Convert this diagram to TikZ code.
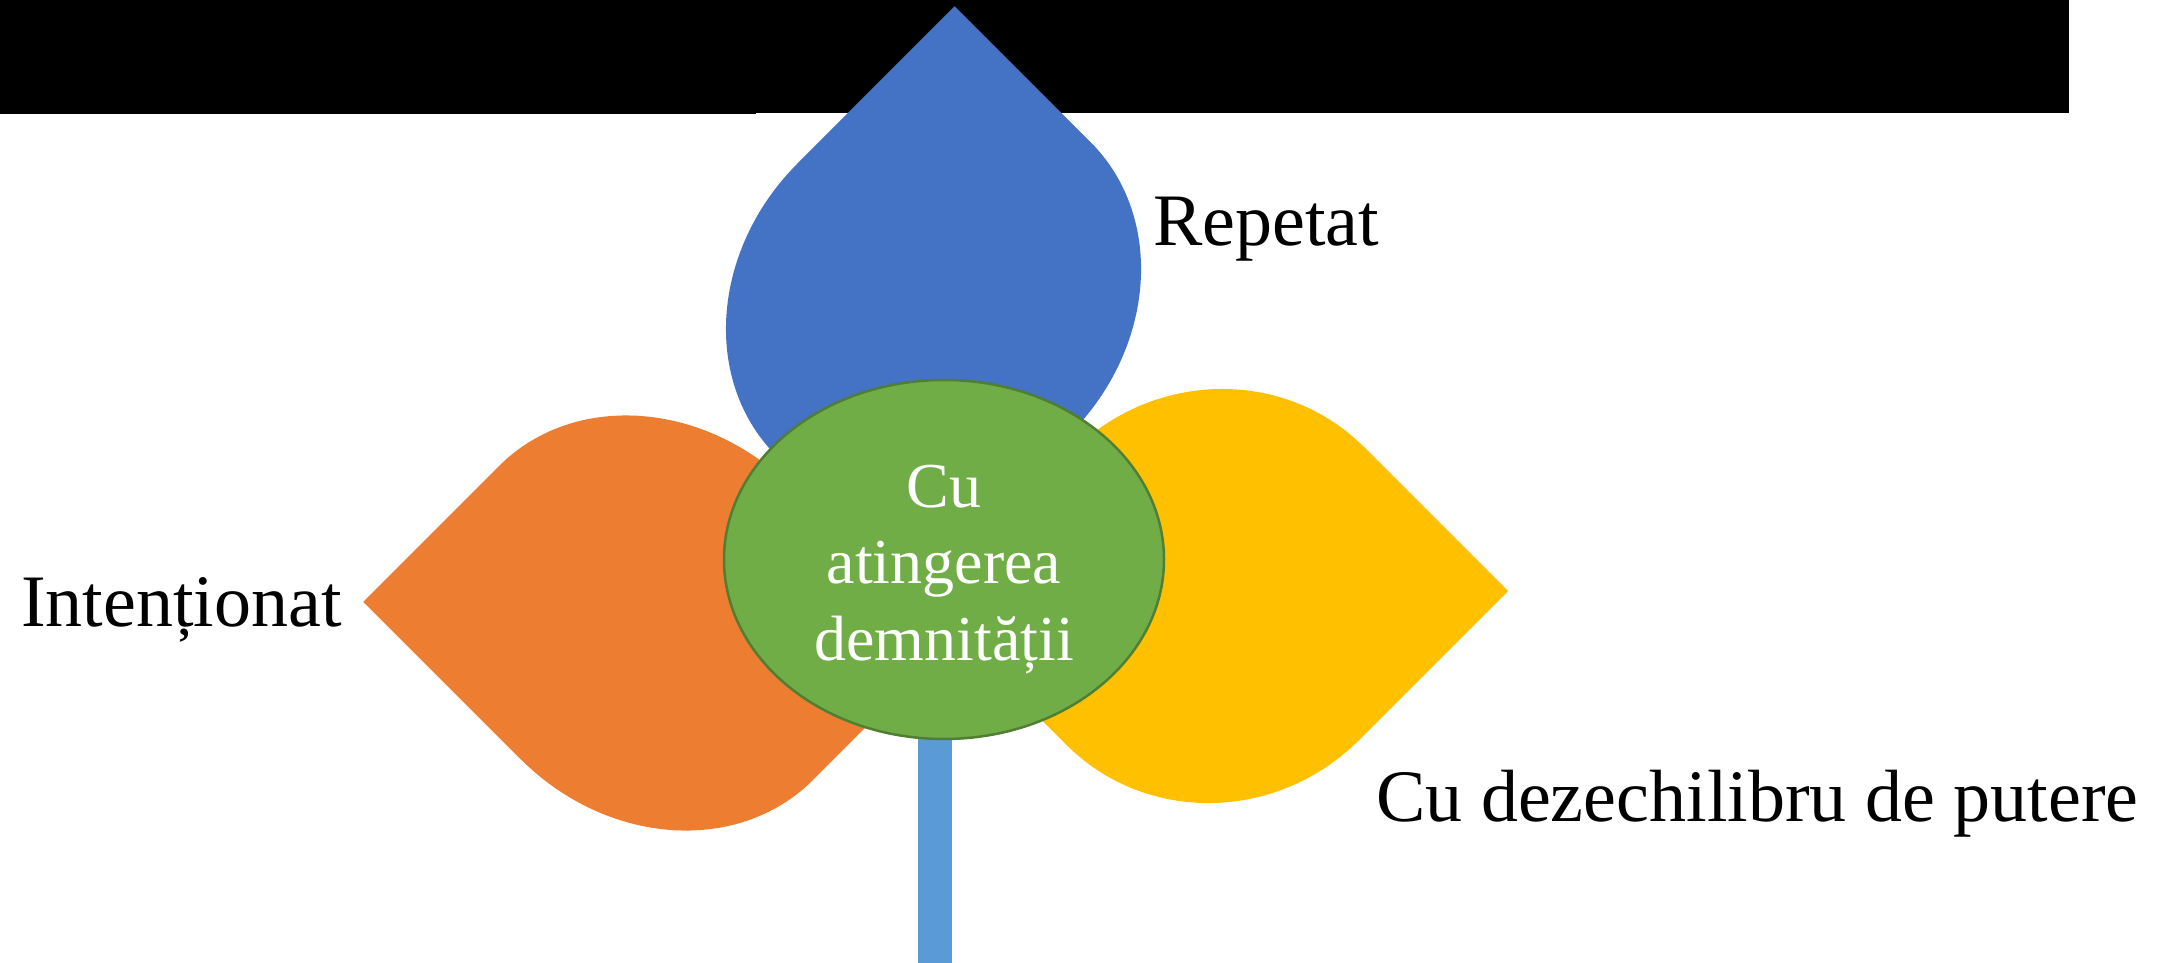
\documentclass[tikz,border=0pt]{standalone}
\usepackage{fontspec}
\setmainfont{Liberation Serif}
\usetikzlibrary{shapes.geometric}
\definecolor{bluepet}{HTML}{4472C4}
\definecolor{orangepet}{HTML}{ED7D31}
\definecolor{yellowpet}{HTML}{FFC000}
\definecolor{greenfill}{HTML}{70AD47}
\definecolor{greenline}{HTML}{507E32}
\definecolor{stemblue}{HTML}{5B9BD5}
% petal outline: ellipse with half axes #1, #2 whose upper right and lower left quarters are square corners
\newcommand{\tdpath}[2]{(-#1pt,0) arc[start angle=180,end angle=90,x radius=#1pt,y radius=#2pt] -- (#1pt,#2pt) -- (#1pt,0) arc[start angle=0,end angle=-90,x radius=#1pt,y radius=#2pt] -- (-#1pt,-#2pt) -- cycle}
\tikzset{
  petal/.style={draw=none},
  label/.style={inner sep=0pt, anchor=base west, font=\fontsize{74}{85}\selectfont, text=black},
  coretext/.style={inner sep=0pt, anchor=base, font=\fontsize{64}{76}\selectfont, text=white},
  core/.style={ellipse, draw=greenline, line width=2.5pt, fill=greenfill, minimum width=440pt, minimum height=359pt, inner sep=0pt}
}
\begin{document}
\begin{tikzpicture}[x=1pt,y=1pt]
\useasboundingbox (0,0) rectangle (2172,-963);
\fill[white] (0,0) rectangle (2172,-963);
% black band at the top
\fill[black] (0,0) rectangle (756,-114.3);
\fill[black] (756,0) rectangle (2069.3,-113.3);
% petals
\fill[petal, bluepet, shift={(933.5,-299)}, rotate=45] \tdpath{222}{192};
\fill[petal, orangepet, shift={(656,-623)}, rotate=135] \tdpath{222}{192};
\fill[petal, yellowpet, shift={(1215.3,-596)}, rotate=-45] \tdpath{203.5}{210.5};
% stem
\fill[stemblue] (918.3,-700) rectangle (951.7,-963);
% centre
\node[core] (c) at (944,-559.5) {};
\node[coretext] (c1) at (944,-507) {Cu};
\node[coretext] (c2) at (944,-583) {atingerea};
\node[coretext] (c3) at (944,-660) {demnității};
% labels
\node[label] (rep) at (1153,-245) {Repetat};
\node[label] (int) at (21,-626) {Intenționat};
\node[label] (dez) at (1376,-821) {Cu dezechilibru de putere};
\end{tikzpicture}
\end{document}
